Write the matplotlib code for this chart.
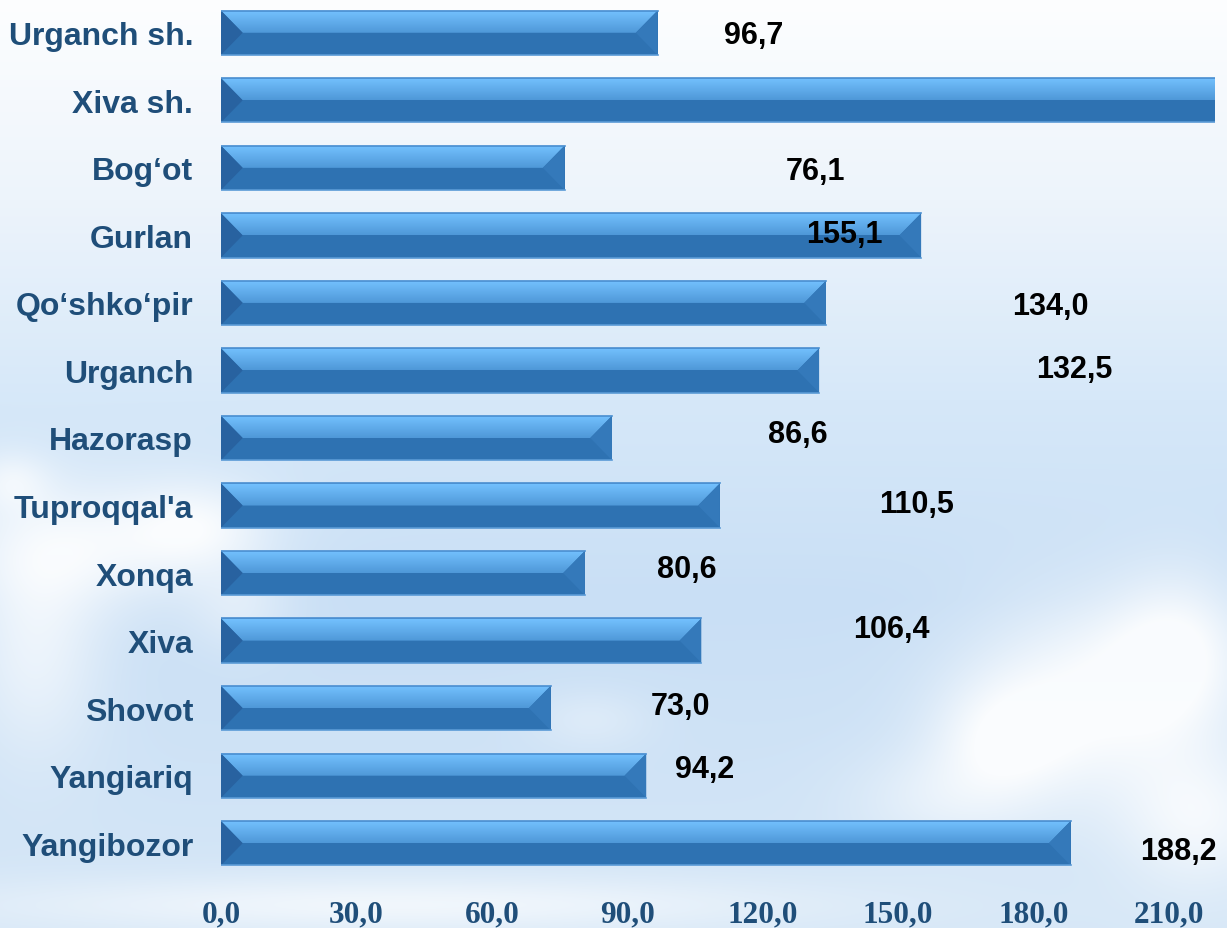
import numpy as np
import matplotlib
matplotlib.use("Agg")
import matplotlib.pyplot as plt
from matplotlib.colors import to_rgb
from matplotlib.patches import Polygon

# data
districts = ["Urganch sh.", "Xiva sh.", "Bog‘ot", "Gurlan", "Qo‘shko‘pir", "Urganch",
             "Hazorasp", "Tuproqqal'a", "Xonqa", "Xiva", "Shovot", "Yangiariq", "Yangibozor"]
values = [96.7, 250.0, 76.1, 155.1, 134.0, 132.5, 86.6, 110.5, 80.6, 106.4, 73.0, 94.2, 188.2]
value_labels = ["96,7", None, "76,1", "155,1", "134,0", "132,5", "86,6", "110,5",
                "80,6", "106,4", "73,0", "94,2", "188,2"]
xticks = [0, 30, 60, 90, 120, 150, 180, 210]
xtick_labels = ["0,0", "30,0", "60,0", "90,0", "120,0", "150,0", "180,0", "210,0"]

# where the labels were placed in the original (x in data units, y offset in rows)
label_x = [118.1, 0, 131.8, 138.2, 183.7, 189.0, 127.8, 154.0, 103.2, 148.4, 101.9, 107.2, 212.2]
label_dy = [0.03, 0, 0.04, -0.02, 0.04, -0.02, -0.06, -0.02, -0.06, -0.17, -0.03, -0.1, 0.12]

W, H = 1227, 929
fig = plt.figure(figsize=(W / 100, H / 100), dpi=100)

# sky background
yy, xx = np.mgrid[0:H, 0:W]
stops_y = [0, 200, 400, 600, H]
stops_c = [to_rgb(c) for c in ["#fdfeff", "#edf4fb", "#d6e8f9", "#c9dff5", "#d6e7f7"]]
bg = np.zeros((H, W, 3))
for k in range(3):
    bg[:, :, k] = np.interp(yy, stops_y, [c[k] for c in stops_c])
clouds = [(90, 545, 140, 65, 0.7), (200, 525, 70, 45, 0.55), (35, 650, 70, 110, 0.6),
          (240, 610, 50, 45, 0.35), (10, 480, 40, 30, 0.5),
          (1090, 700, 120, 100, 0.85), (1180, 650, 70, 80, 0.7), (1000, 740, 70, 60, 0.6),
          (1200, 820, 80, 70, 0.7), (940, 800, 90, 50, 0.4),
          (400, 905, 420, 28, 0.65), (590, 720, 60, 30, 0.3)]
cl = np.zeros((H, W))
for cx, cy, sx, sy, a in clouds:
    cl += a * np.exp(-(((xx - cx) / sx) ** 2 + ((yy - cy) / sy) ** 2))
cl = np.clip(cl, 0, 0.9)[:, :, None]
bg = bg * (1 - cl) + cl
bg_ax = fig.add_axes([0, 0, 1, 1], zorder=0)
bg_ax.imshow(bg, aspect="auto", extent=(0, 1, 0, 1))
bg_ax.axis("off")

ax = fig.add_axes([221 / W, 1 - 878 / H, (1215 - 221) / W, 878 / H], zorder=1)
ax.patch.set_alpha(0)

pos = np.arange(len(districts))
h = 0.655
b = 4.8
ax.barh(pos, values, height=h, color="#2e72b2", edgecolor="none", zorder=2)

grad = np.linspace(0, 1, 40)[:, None]
top_c = np.array(to_rgb("#74c2ff"))
mid_c = np.array(to_rgb("#4f98d8"))
grad_img = (top_c * (1 - grad) + mid_c * grad)[:, None, :]

for y, v in zip(pos, values):
    top = y - h / 2
    mid = y
    bot = y + h / 2
    trap = Polygon([(0, top), (v, top), (v - b, mid), (b, mid)], closed=True,
                   facecolor="none", edgecolor="none")
    ax.add_patch(trap)
    im = ax.imshow(grad_img, extent=(0, v, mid, top), aspect="auto", zorder=3)
    im.set_clip_path(trap)
    ax.add_patch(Polygon([(0, top), (b, mid), (0, bot)], closed=True,
                         facecolor="#2862a0", edgecolor="none", zorder=4))
    ax.add_patch(Polygon([(v, top), (v, bot), (v - b, mid)], closed=True,
                         facecolor="#3479ba", edgecolor="none", zorder=4))
    ax.plot([0, v], [top, top], color="#4a8ed0", lw=1.2, zorder=5)
    ax.plot([0, v], [bot, bot], color="#5a9ad6", lw=1.2, zorder=5)

for y, lab, lx, dy in zip(pos, value_labels, label_x, label_dy):
    if lab is None:
        continue
    ax.text(lx, y + dy, lab, ha="center", va="center", fontsize=22,
            fontweight="bold", family="Liberation Sans", color="black", zorder=6)

ax.set_xlim(0, 220.2)
ax.set_ylim(12.5, -0.5)
ax.set_yticks(pos)
ax.set_yticklabels(districts, fontsize=23, fontweight="bold", family="Liberation Sans",
                   color="#1f4e79")
ax.set_xticks(xticks)
ax.set_xticklabels(xtick_labels, fontsize=22.5, fontweight="bold", family="Liberation Serif",
                   color="#1f4e79")
ax.tick_params(axis="y", length=0, pad=20)
ax.tick_params(axis="x", length=0, pad=16)
for s in ax.spines.values():
    s.set_visible(False)

fig.savefig("out.png", dpi=100)
